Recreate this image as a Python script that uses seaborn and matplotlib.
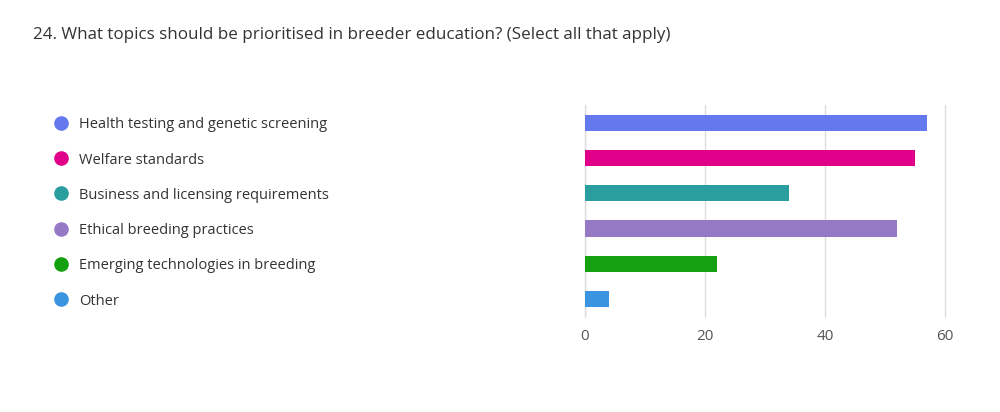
import matplotlib
matplotlib.use("Agg")
import matplotlib.pyplot as plt
import matplotlib.transforms as mtransforms
import seaborn as sns
import pandas as pd

categories = [
    "Health testing and genetic screening",
    "Welfare standards",
    "Business and licensing requirements",
    "Ethical breeding practices",
    "Emerging technologies in breeding",
    "Other",
]
values = [57, 55, 34, 52, 22, 4]
colors = ["#6479ED", "#E0008A", "#2A9D9F", "#9679C4", "#14A010", "#3B94E0"]
xticks = [0, 20, 40, 60]
title = "24. What topics should be prioritised in breeder education? (Select all that apply)"

sns.set_theme(style="white")
plt.rcParams["font.family"] = ["Open Sans", "DejaVu Sans"]

df = pd.DataFrame({"topic": categories, "count": values})

fig = plt.figure(figsize=(10, 4.12), dpi=100)
ax = fig.add_axes([0.585, 0.231, 0.360, 0.514])

sns.barplot(data=df, x="count", y="topic", hue="topic", palette=colors,
            order=categories, hue_order=categories, width=0.46,
            legend=False, ax=ax, saturation=1, edgecolor="none")

ax.set_xlim(0, 60)
ax.set_xticks(xticks)
ax.set_xticklabels([str(t) for t in xticks])
ax.set_yticks([])
ax.set_xlabel("")
ax.set_ylabel("")
for s in ax.spines.values():
    s.set_visible(False)
ax.grid(axis="x", color="#dddddd", linewidth=1)
for gl in ax.get_xgridlines():
    gl.set_clip_on(False)
ax.set_axisbelow(True)
ax.axvline(0, color="#cccccc", linewidth=1, zorder=0.5)
ax.tick_params(axis="x", length=0, pad=9, labelsize=11, labelcolor="#555555")

trans = mtransforms.blended_transform_factory(fig.transFigure, ax.transData)
for i, (cat, col) in enumerate(zip(categories, colors)):
    ax.plot([0.061], [i], marker="o", markersize=9.5, color=col,
            transform=trans, clip_on=False, linestyle="none")
    ax.text(0.079, i, cat, transform=trans, va="center_baseline", ha="left",
            fontsize=10.5, color="#333333")

fig.text(0.033, 0.92, title, fontsize=12.25, color="#333333",
         va="center_baseline", ha="left")

fig.savefig("out.png", dpi=100, facecolor="white")
